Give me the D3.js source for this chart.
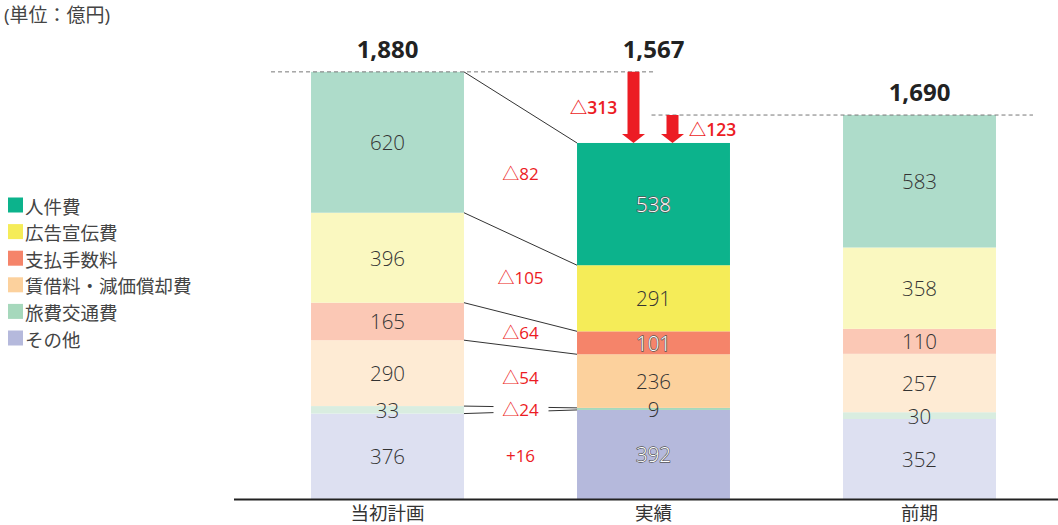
<!DOCTYPE html>
<html><head><meta charset="utf-8">
<script src="https://cdn.jsdelivr.net/npm/d3@7"></script>
<style>
body{margin:0;background:#fff;}
text{font-family:"Open Sans","Noto Sans CJK JP",sans-serif;}
</style></head>
<body><svg id="c" width="1058" height="525"></svg>
<script>
const categories = ["当初計画","実績","前期"];
const seriesNames = ["その他","旅費交通費","賃借料・減価償却費","支払手数料","広告宣伝費","人件費"];
const planValues   = [376, 33, 290, 165, 396, 620];
const actualValues = [392,  9, 236, 101, 291, 538];
const prevValues   = [352, 30, 257, 110, 358, 583];
const strongColors = ["#b5b9dc","#a6d8bc","#fcd19d","#f5846a","#f5ec58","#0cb38c"];
const paleColors   = ["#dde0f1","#d9ede0","#feebd4","#fbc8b5","#faf8c0","#aedcca"];
const legendOrder = ["人件費","広告宣伝費","支払手数料","賃借料・減価償却費","旅費交通費","その他"];
const unitLabel = "(単位：億円)";

const svg = d3.select("#c");
const x = d3.scaleBand().domain(categories).range([254.5,1052.5]).paddingInner(0.425).paddingOuter(0.2125);
const y = d3.scaleLinear().domain([0,2000]).range([499,44.6]);
const bw = x.bandwidth();
const RED = "#ec1c24";
const CJK = "'Noto Sans CJK JP',sans-serif";

const dataByCat = [planValues, actualValues, prevValues];
const colorsByCat = [paleColors, strongColors, paleColors];
const fmt = d3.format(",");

function stackOf(vals){ let c=0; return vals.map(v=>{const s={y0:c,y1:c+v,v}; c+=v; return s;}); }
const stacks = dataByCat.map(stackOf);
const totals = dataByCat.map(v=>d3.sum(v));

// bars
categories.forEach((cat,ci)=>{
  const g = svg.append("g");
  g.selectAll("rect").data(stacks[ci]).join("rect")
    .attr("x", x(cat)).attr("width", bw)
    .attr("y", d=>y(d.y1)).attr("height", d=>y(d.y0)-y(d.y1))
    .attr("fill", (d,i)=>colorsByCat[ci][i]);
  const whiteIdx = ci===1 ? [0,3,5] : [];
  g.selectAll("text").data(stacks[ci]).join("text")
    .attr("x", x(cat)+bw/2).attr("y", d=>(y(d.y0)+y(d.y1))/2)
    .attr("text-anchor","middle").attr("dominant-baseline","central")
    .attr("font-size",20.5).attr("font-weight",300)
    .attr("fill",(d,i)=>whiteIdx.includes(i)?"#fff":"#333")
    .attr("stroke",(d,i)=>whiteIdx.includes(i)?"#555":"none")
    .attr("stroke-width",1.3).attr("paint-order","stroke")
    .text(d=>d.v);
});

// axis
svg.append("line").attr("x1",234).attr("x2",1058).attr("y1",y(0)+0.5).attr("y2",y(0)+0.5)
  .attr("stroke","#222").attr("stroke-width",2);
const ax = svg.append("g").attr("transform",`translate(0,${y(0)+1})`)
  .call(d3.axisBottom(x).tickSize(0).tickPadding(7));
ax.select(".domain").remove();
ax.selectAll("text").attr("font-size",18.5).attr("fill","#333").attr("font-family",CJK);

// dashed total lines
const xPlan = x(categories[0]), xAct = x(categories[1]), xPrev = x(categories[2]);
svg.append("line").attr("x1",xPlan-40).attr("x2",xAct+bw/2).attr("y1",y(totals[0])).attr("y2",y(totals[0]))
  .attr("stroke","#777").attr("stroke-dasharray","4,3").attr("stroke-width",1);
svg.append("line").attr("x1",xAct+bw/2-2).attr("x2",xPrev+bw+37).attr("y1",y(totals[2])).attr("y2",y(totals[2]))
  .attr("stroke","#777").attr("stroke-dasharray","4,3").attr("stroke-width",1);

// total labels
[0,1,2].forEach(ci=>{
  const ty = ci===2 ? y(totals[2])-14 : y(totals[0])-14;
  svg.append("text").attr("x",x(categories[ci])+bw/2).attr("y",ty)
    .attr("text-anchor","middle").attr("font-size",24).attr("font-weight","bold").attr("fill","#222")
    .text(fmt(totals[ci]));
});

// diff labels
const diffs = actualValues.map((v,i)=>v-planValues[i]);
const midX = (xPlan+bw+xAct)/2;
const labelYs = diffs.map((d,i)=>{
  const a=(y(stacks[0][i].y0)+y(stacks[0][i].y1))/2, b=(y(stacks[1][i].y0)+y(stacks[1][i].y1))/2;
  return (a+b)/2;
});
// connector lines
const bounds = stacks[0].map((s,i)=>({p:s.y1,a:stacks[1][i].y1}));
bounds.forEach(bd=>{
  const x1=xPlan+bw, x2=xAct, y1=y(bd.p), y2=y(bd.a);
  const ym = (y1+y2)/2;
  const hit = labelYs.some(ly=>Math.abs(ly-ym)<9);
  if(hit){
    const gx1 = midX-27, gx2 = midX+28;
    const yy = xx=> y1+(y2-y1)*(xx-x1)/(x2-x1);
    svg.append("line").attr("x1",x1).attr("y1",y1).attr("x2",gx1).attr("y2",yy(gx1)).attr("stroke","#333");
    svg.append("line").attr("x1",gx2).attr("y1",yy(gx2)).attr("x2",x2).attr("y2",y2).attr("stroke","#333");
  } else {
    svg.append("line").attr("x1",x1).attr("y1",y1).attr("x2",x2).attr("y2",y2).attr("stroke","#333");
  }
});
svg.append("g").selectAll("text").data(diffs).join("text")
  .attr("x",midX).attr("y",(d,i)=>labelYs[i]).attr("text-anchor","middle").attr("dominant-baseline","central")
  .attr("font-size",17).attr("fill",RED)
  .text(d=> d<0 ? "△"+(-d) : "+"+d);

// red arrows
function arrow(cx, yTop, yBot, shaft, head, headH){
  const p = d3.path();
  p.moveTo(cx-shaft/2,yTop); p.lineTo(cx+shaft/2,yTop); p.lineTo(cx+shaft/2,yBot-headH);
  p.lineTo(cx+head/2,yBot-headH); p.lineTo(cx,yBot); p.lineTo(cx-head/2,yBot-headH);
  p.lineTo(cx-shaft/2,yBot-headH); p.closePath();
  svg.append("path").attr("d",p.toString()).attr("fill",RED);
}
const arrowX1 = xAct+bw/2-20, arrowX2 = xAct+bw/2+19;
arrow(arrowX1, y(totals[0]), y(totals[1]), 12, 23, 9);
arrow(arrowX2, y(totals[2]), y(totals[1]), 12, 23, 9);
svg.append("text").attr("x",arrowX1-40).attr("y",(y(totals[0])+y(totals[1]))/2).attr("dominant-baseline","central")
  .attr("text-anchor","middle").attr("font-size",17.5).attr("fill",RED).attr("font-weight","600")
  .text("△"+(totals[0]-totals[1]));
svg.append("text").attr("x",arrowX2+40).attr("y",(y(totals[2])+y(totals[1]))/2).attr("dominant-baseline","central")
  .attr("text-anchor","middle").attr("font-size",17.5).attr("fill",RED).attr("font-weight","600")
  .text("△"+(totals[2]-totals[1]));

// unit label
svg.append("text").attr("x",4).attr("y",22).attr("font-size",19).attr("fill","#444")
  .attr("font-family",CJK).text(unitLabel);

// legend
const lg = svg.append("g");
legendOrder.forEach((name,i)=>{
  const si = seriesNames.indexOf(name);
  const cy = 205 + i*26.6;
  lg.append("rect").attr("x",8).attr("y",cy-7.5).attr("width",15).attr("height",15).attr("fill",strongColors[si]);
  lg.append("text").attr("x",25).attr("y",cy+1).attr("dominant-baseline","central").attr("font-size",18.5)
    .attr("fill","#444").attr("font-family",CJK).text(name);
});
</script></body></html>
